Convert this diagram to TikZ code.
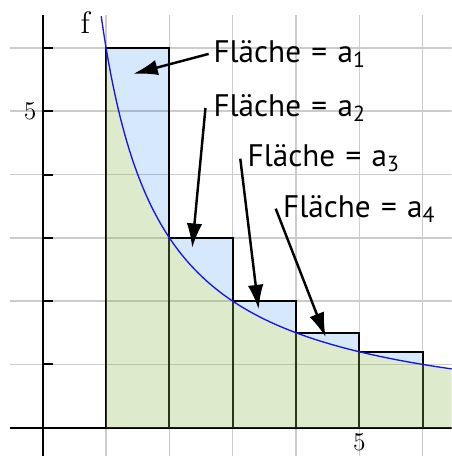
\documentclass[tikz,border=0pt]{standalone}
\usepackage{fontspec}
\newfontfamily\lblfont{PT Sans}
\usetikzlibrary{arrows.meta}
\definecolor{bfill}{RGB}{213,232,252}
\definecolor{gfill}{RGB}{142,188,85}
\definecolor{curvec}{RGB}{20,20,240}
\tikzset{
  gridline/.style={black, opacity=0.2, line width=0.7pt},
  axisline/.style={black, line width=0.9pt},
  rectline/.style={black, line width=0.9pt},
  arr/.style={black, line width=1.1pt, -{Latex[length=11pt,width=7pt]}},
  lbl/.style={font=\lblfont\fontsize{14}{16}\selectfont, inner sep=2pt, anchor=base west},
  ticklbl/.style={font=\fontsize{11.5}{13}\selectfont, inner sep=0pt},
}
\newcommand{\flaeche}[1]{Fläche\,\,=\,\,a\textsubscript{#1}}
\begin{document}
\begin{tikzpicture}
\useasboundingbox (-0.676,-0.447) rectangle (6.46,6.757);
\clip (-0.676,-0.447) rectangle (6.46,6.757);
% blue regions between curve and rectangle tops
\foreach \k in {1,...,5}{
  \fill[bfill] (\k,{6/\k}) -- ({\k+1},{6/\k}) -- ({\k+1},{6/(\k+1)})
    -- plot[domain={\k+1}:\k, samples=30] (\x,{6/\x}) -- cycle;
}
% grid
\draw[gridline] (-0.52,-0.45) grid (6.46,6.52);
% axes
\draw[axisline] (-0.52,0) -- (6.46,0);
\draw[axisline] (0,-0.45) -- (0,6.52);
\foreach \y in {1,...,6}{ \draw[axisline] (0,\y) -- (0.16,\y); }
% rectangles
\foreach \k in {1,...,5}{
  \draw[rectline] (\k,0) rectangle ({\k+1},{6/\k});
}
% green area under the curve
\fill[gfill, opacity=0.3] (1,0) -- plot[domain=1:6.46, samples=100] (\x,{6/\x}) -- (6.46,0) -- cycle;
% curve
\draw[curvec, line width=0.6pt] plot[domain=0.923:6.46, samples=150] (\x,{6/\x});
% axis labels
\node[font=\fontsize{14}{16}\selectfont] (f) at (0.67,6.40) {f};
\node[ticklbl] (y5) at (-0.2,5) {5};
\node[ticklbl] (x5) at (5,-0.23) {5};
% labels
\node[lbl] (l1) at (2.62,5.77) {\flaeche{1}};
\node[lbl] (l2) at (2.62,4.91) {\flaeche{2}};
\node[lbl] (l3) at (3.16,4.12) {\flaeche{3}};
\node[lbl] (l4) at (3.72,3.32) {\flaeche{4}};
% arrow targets
\coordinate (t1) at (1.43,5.59);
\coordinate (t2) at (2.36,2.84);
\coordinate (t3) at (3.41,1.87);
\coordinate (t4) at (4.47,1.43);
\coordinate (s2) at (2.57,5.05);
\coordinate (s3) at (3.12,4.25);
\coordinate (s4) at (3.68,3.46);
\draw[arr] (l1.west) -- (t1);
\draw[arr] (s2) -- (t2);
\draw[arr] (s3) -- (t3);
\draw[arr] (s4) -- (t4);
\end{tikzpicture}
\end{document}
